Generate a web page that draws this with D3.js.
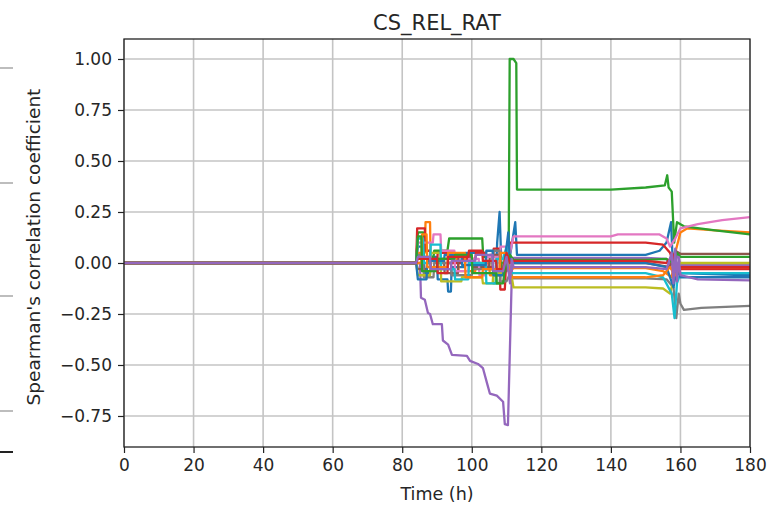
<!DOCTYPE html>
<meta charset="utf-8">
<body style="margin:0;background:#fff">
<script src="https://d3js.org/d3.v7.min.js"></script>
<div id="chart"></div>
<script>
// tick labels
var xTicks = [0, 20, 40, 60, 80, 100, 120, 140, 160, 180];
var yTicks = [-0.75, -0.5, -0.25, 0, 0.25, 0.5, 0.75, 1.0];

// matplotlib tab10 cycle
var colors = ["#1f77b4", "#ff7f0e", "#2ca02c", "#d62728", "#9467bd",
              "#8c564b", "#e377c2", "#7f7f7f", "#bcbd22", "#17becf"];

// each series: [time (h), spearman rho]
var sBlue = [[0,0],[84,0],[84.5,0.08],[86,0.08],[86.3,-0.05],[88,-0.05],[88.2,0.03],[90,0.03],[90.2,-0.08],[93,-0.08],[93.2,-0.14],[94,-0.14],[94.2,-0.02],[98,-0.02],[98.2,0.05],[104,0.05],[104.2,-0.03],[107,-0.03],[107.3,0.1],[108,0.25],[108.5,0.0],[109,-0.05],[110,0.05],[110.5,-0.02],[112.5,0.2],[113,0.04],[150,0.04],[154,0.06],[156,0.1],[157.3,0.2],[157.8,0.0],[158.5,-0.06],[160,-0.05],[180,-0.06]];
var sOrange = [[0,0],[84,0],[84.5,0.05],[86.5,0.05],[86.7,0.2],[88,0.2],[88.2,-0.03],[91,-0.03],[91.2,0.02],[96,0.02],[96.2,-0.04],[101,-0.04],[101.2,0.0],[105,0.0],[105.2,-0.06],[108,-0.06],[108.3,0.02],[110,0.02],[111,-0.04],[112,-0.025],[150,-0.025],[155,-0.04],[157.5,-0.07],[158.5,0.05],[160,0.15],[162,0.17],[170,0.16],[180,0.15]];
var sGreen = [[0,0],[84,0],[84.5,0.15],[86,0.15],[86.2,0.03],[89,0.03],[89.2,0.06],[93,0.06],[93.5,0.12],[103,0.12],[103.3,0.03],[106,0.03],[106.2,-0.1],[108,-0.1],[108.5,0.0],[110.6,0.0],[110.9,1.0],[112,1.0],[112.8,0.98],[113,0.36],[140,0.36],[150,0.37],[155.5,0.38],[156.2,0.43],[156.6,0.37],[157.5,0.35],[158.2,0.1],[159,0.2],[161,0.18],[170,0.16],[180,0.14]];
var sRed = [[0,0],[84,0],[84.3,0.17],[86.5,0.17],[86.7,0.06],[88,0.06],[88.2,-0.02],[90,-0.02],[90.2,0.05],[93,0.05],[93.2,0.0],[97,0.0],[97.2,0.02],[101,0.02],[101.2,0.05],[104,0.05],[104.2,-0.02],[106,-0.02],[106.3,0.07],[108,0.07],[108.2,-0.13],[109.5,-0.13],[110,0.04],[111,0.1],[112,0.1],[150,0.1],[155,0.09],[157,0.05],[158.5,-0.02],[160,-0.03],[180,-0.03]];
var sPurple = [[0,0],[84,0],[85.1,0],[85.4,-0.17],[86.5,-0.18],[87.4,-0.245],[88,-0.25],[88.8,-0.3],[91.4,-0.3],[91.7,-0.38],[93.2,-0.4],[94.3,-0.45],[98.6,-0.455],[99.5,-0.48],[101.8,-0.495],[103.2,-0.515],[104.4,-0.59],[105.2,-0.64],[107.2,-0.65],[109,-0.68],[109.5,-0.79],[110.4,-0.795],[111.6,0.0],[112,0.025],[150,0.025],[156,0.02],[158,-0.05],[159,0.05],[160,-0.01],[180,-0.01]];
var sBrown = [[0,0],[84,0],[84.5,-0.03],[87,-0.03],[87.2,0.02],[92,0.02],[92.2,-0.05],[96,-0.05],[96.2,0.03],[100,0.03],[100.2,-0.02],[105,-0.02],[105.2,0.04],[108,0.04],[108.3,-0.04],[110,-0.04],[111,0.02],[112,0.0],[150,0.0],[157,-0.02],[158.5,0.06],[160,0.045],[180,0.045]];
var sPink = [[0,0],[84,0],[84.5,0.1],[88.8,0.1],[89,0.14],[91,0.14],[91.2,0.06],[95,0.06],[95.2,-0.04],[99,-0.04],[99.2,0.02],[102,0.02],[102.2,-0.06],[104,-0.06],[104.2,0.03],[108,0.03],[108.3,0.08],[110,0.08],[111,0.05],[112,0.13],[140,0.13],[142,0.14],[154,0.14],[156,0.12],[157,0.08],[158.5,0.12],[160,0.17],[165,0.19],[172,0.21],[180,0.225]];
var sGrey = [[0,0],[84,0],[84.5,0.04],[86,0.04],[86.2,-0.07],[89,-0.07],[89.2,0.0],[94,0.0],[94.2,-0.06],[100,-0.06],[100.2,-0.03],[106,-0.03],[106.2,0.06],[108,0.06],[108.2,-0.09],[110,-0.09],[111,-0.05],[112,-0.075],[150,-0.075],[156,-0.08],[158,-0.12],[158.8,-0.27],[159.5,-0.15],[160,-0.2],[161,-0.23],[166,-0.22],[180,-0.21]];
var sOlive = [[0,0],[84,0],[84.5,-0.06],[88,-0.06],[88.2,0.05],[91,0.05],[91.2,-0.09],[97,-0.09],[97.2,-0.07],[103,-0.07],[103.2,-0.1],[106,-0.1],[106.2,-0.05],[109,-0.05],[109.5,0.05],[111,-0.02],[112,-0.12],[150,-0.12],[155,-0.125],[157,-0.15],[158.5,-0.05],[160,0.0],[180,0.0]];
var sCyan = [[0,0],[84,0],[84.5,0.12],[86,0.12],[86.2,0.0],[88,0.0],[88.2,0.09],[91,0.09],[91.2,-0.03],[95,-0.03],[95.2,-0.08],[99,-0.08],[99.2,0.0],[104,0.0],[104.2,-0.1],[107,-0.1],[107.2,0.02],[109,0.02],[110,0.08],[111,-0.05],[112,-0.05],[150,-0.05],[155,-0.07],[157.5,-0.15],[158.3,-0.27],[159,-0.1],[160,-0.05],[180,-0.05]];
var sBlue2 = [[0,0],[84,0],[84.5,-0.08],[87,-0.08],[87.2,0.01],[92,0.01],[92.2,0.04],[97,0.04],[97.2,-0.01],[104,-0.01],[104.2,0.06],[106,0.06],[106.2,-0.06],[109,-0.06],[110.5,0.15],[111,0.0],[112,0.0],[150,0.0],[156,-0.02],[158,-0.12],[159,-0.02],[160,-0.07],[180,-0.07]];
var sOrange2 = [[0,0],[84,0],[85.5,0.0],[85.7,0.14],[87,0.14],[87.2,-0.02],[93,-0.02],[93.2,0.05],[98,0.05],[98.2,-0.07],[103,-0.07],[103.2,-0.03],[108,-0.03],[108.3,0.05],[110,0.05],[111,-0.07],[112,-0.07],[150,-0.07],[155,-0.06],[157,-0.02],[158.5,-0.06],[160,-0.02],[180,-0.02]];
var sGreen2 = [[0,0],[84,0],[84.5,0.13],[85.5,0.13],[85.7,-0.04],[90,-0.04],[90.2,0.02],[95,0.02],[95.2,0.04],[100,0.04],[100.2,-0.05],[107,-0.05],[107.2,-0.1],[109,-0.1],[109.5,-0.03],[111,0.04],[112,0.015],[150,0.015],[156,0.02],[158,0.0],[159,0.05],[160,0.03],[180,0.03]];
var sRed2 = [[0,0],[84,0],[84.5,0.02],[90,0.02],[90.2,-0.05],[93,-0.05],[93.2,0.03],[99,0.03],[99.2,0.06],[103,0.06],[103.2,0.01],[107,0.01],[107.2,-0.03],[109,-0.03],[110,0.05],[111,0.0],[112,0.01],[150,0.01],[156,0.0],[158,0.04],[159,-0.03],[160,-0.02],[180,-0.02]];
var sPurple2 = [[0,0],[84,0],[84.5,0.03],[88,0.03],[88.2,-0.03],[94,-0.03],[94.2,0.01],[101,0.01],[101.2,0.04],[106,0.04],[106.2,-0.04],[109,-0.04],[110,0.03],[111,-0.1],[111.5,0.02],[112,-0.02],[150,-0.02],[156,-0.03],[157.5,0.05],[158,-0.1],[158.5,0.07],[159,-0.09],[159.5,0.03],[160,-0.06],[165,-0.08],[180,-0.085]];

var series = [sBlue, sOrange, sGreen, sRed, sPurple, sBrown, sPink, sGrey, sOlive, sCyan,
              sBlue2, sOrange2, sGreen2, sRed2, sPurple2];

// leftover edges of a neighbouring subplot, cut at the left border
var strayMarks = [68, 183, 296, 411];

var width = 769, height = 506;
var margin = {top: 39, right: 19, bottom: 59, left: 124};
var w = width - margin.left - margin.right;
var h = height - margin.top - margin.bottom;

var svg = d3.select("#chart").append("svg")
    .attr("width", width)
    .attr("height", height)
    .style("font-family", "DejaVu Sans, sans-serif");

svg.selectAll("line.stray")
    .data(strayMarks)
    .join("line")
    .attr("x1", 0).attr("x2", 13)
    .attr("y1", d => d).attr("y2", d => d)
    .attr("stroke", "#bdbdbd")
    .attr("stroke-width", 2);
svg.append("line")
    .attr("x1", 0).attr("x2", 13)
    .attr("y1", 452).attr("y2", 452)
    .attr("stroke", "#222")
    .attr("stroke-width", 2);

var g = svg.append("g")
    .attr("transform", `translate(${margin.left},${margin.top})`);

var x = d3.scaleLinear().domain([0, 180]).range([0, w]);
var y = d3.scaleLinear().domain([-0.902, 1.098]).range([h, 0]);

// grid
g.append("g").selectAll("line")
    .data(xTicks)
    .join("line")
    .attr("x1", d => x(d)).attr("x2", d => x(d))
    .attr("y1", 0).attr("y2", h)
    .attr("stroke", "#c4c4c4").attr("stroke-width", 1.6);
g.append("g").selectAll("line")
    .data(yTicks)
    .join("line")
    .attr("x1", 0).attr("x2", w)
    .attr("y1", d => y(d)).attr("y2", d => y(d))
    .attr("stroke", "#c4c4c4").attr("stroke-width", 1.6);

// lines
var line = d3.line()
    .x(d => x(d[0]))
    .y(d => y(d[1]));

g.append("g")
    .selectAll("path")
    .data(series)
    .join("path")
    .attr("d", line)
    .attr("fill", "none")
    .attr("stroke", (d, i) => colors[i % 10])
    .attr("stroke-width", 2.3)
    .attr("stroke-linejoin", "round");

// spines
g.append("rect")
    .attr("width", w).attr("height", h)
    .attr("fill", "none")
    .attr("stroke", "#222")
    .attr("stroke-width", 1.3);

// axes
var fmt = d => (d < 0 ? "\u2212" : "") + Math.abs(d).toFixed(2);

var xAxis = g.append("g")
    .attr("transform", `translate(0,${h})`)
    .call(d3.axisBottom(x).tickValues(xTicks).tickSize(6).tickPadding(6).tickFormat(d3.format("d")));
var yAxis = g.append("g")
    .call(d3.axisLeft(y).tickValues(yTicks).tickSize(6).tickPadding(6).tickFormat(fmt));

[xAxis, yAxis].forEach(a => {
    a.select(".domain").remove();
    a.selectAll(".tick line").attr("stroke", "#222").attr("stroke-width", 1.2);
    a.selectAll(".tick text")
        .attr("fill", "#262626")
        .style("font-size", "17px")
        .style("font-family", "DejaVu Sans, sans-serif");
});

// labels
svg.append("text")
    .attr("x", margin.left + w / 2)
    .attr("y", 30)
    .attr("text-anchor", "middle")
    .attr("fill", "#262626")
    .style("font-size", "21px")
    .text("CS_REL_RAT");

svg.append("text")
    .attr("x", margin.left + w / 2)
    .attr("y", 500)
    .attr("text-anchor", "middle")
    .attr("fill", "#262626")
    .style("font-size", "17.5px")
    .text("Time (h)");

svg.append("text")
    .attr("transform", `translate(40,${margin.top + h / 2 + 4}) rotate(-90)`)
    .attr("text-anchor", "middle")
    .attr("fill", "#262626")
    .style("font-size", "18.5px")
    .text("Spearman's correlation coefficient");
</script>
</body>
